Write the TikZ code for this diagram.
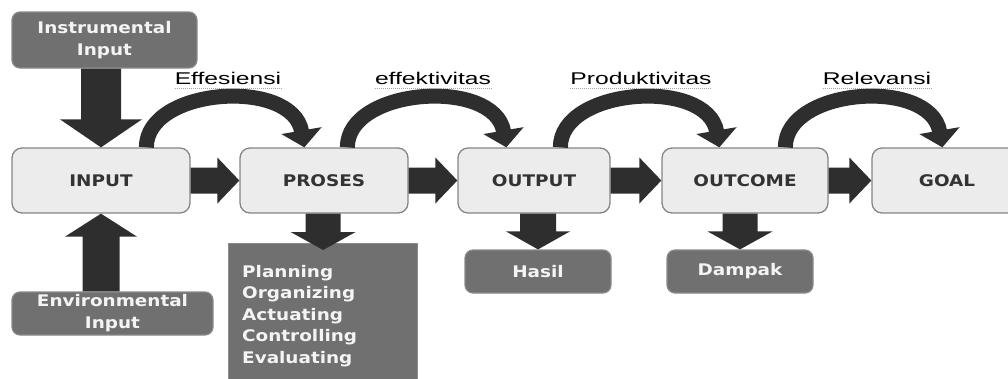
\documentclass[tikz,border=0pt]{standalone}
\usepackage{fontspec}
\usetikzlibrary{calc,arrows.meta}
\newfontfamily\boxfont[FakeStretch=1.15]{DejaVu Sans Bold}
\newfontfamily\labfont[FakeStretch=1.45]{Liberation Sans}
\definecolor{lightbox}{HTML}{ECECEC}
\definecolor{lightedge}{HTML}{858585}
\definecolor{darkbox}{HTML}{707070}
\definecolor{darkedge}{HTML}{8A8A8A}
\definecolor{arrowgray}{HTML}{2E2E2E}
\definecolor{boxtext}{HTML}{333333}
\definecolor{whitetext}{HTML}{F4F4F4}
\tikzset{
  lightnode/.style={draw=lightedge, line width=1.3pt, fill=lightbox, rounded corners=10pt,
    inner sep=0pt, font=\boxfont\fontsize{16}{18}\selectfont, text=boxtext},
  darknode/.style={draw=darkedge, line width=1.2pt, fill=darkbox, rounded corners=8pt,
    inner sep=0pt, font=\boxfont\fontsize{16}{22}\selectfont, text=whitetext, align=center},
  listbox/.style={draw=darkedge, line width=1.2pt, fill=darkbox, inner sep=0pt},
  listtxt/.style={inner sep=0pt, font=\boxfont\fontsize{16}{21.5}\selectfont, text=whitetext, align=left},
  blockarrow/.style={fill=arrowgray},
  curvearrow/.style={draw=arrowgray, line width=15pt, -{Triangle[width=40pt,length=17pt]}},
  lab/.style={inner sep=0pt, anchor=base, font=\labfont\fontsize{17}{19}\selectfont, text=black},
  spell/.style={draw=gray!70, line width=1pt, dash pattern=on 1pt off 1pt}
}
% horizontal block arrow from #1.east to #2.west
\newcommand\harr[2]{%
  \fill[blockarrow] let \p1=(#1.east), \p2=(#2.west) in
    (\x1,\y1+13pt) -- (\x2-22pt,\y1+13pt) -- (\x2-22pt,\y1+23pt) -- (\x2,\y1)
    -- (\x2-22pt,\y1-23pt) -- (\x2-22pt,\y1-13pt) -- (\x1,\y1-13pt) -- cycle;}
% downward block arrow: #1 from, #2 to, #3 shaft half, #4 head half, #5 head length, #6 overlap
\newcommand\darr[6]{%
  \fill[blockarrow] let \p1=(#1.south), \p2=(#2.north) in
    (\x2-#3pt,\y1) -- (\x2-#3pt,\y2-#6pt+#5pt) -- (\x2-#4pt,\y2-#6pt+#5pt) -- (\x2,\y2-#6pt)
    -- (\x2+#4pt,\y2-#6pt+#5pt) -- (\x2+#3pt,\y2-#6pt+#5pt) -- (\x2+#3pt,\y1) -- cycle;}
% upward block arrow: #1 from, #2 to, #3 shaft half, #4 head half, #5 head length
\newcommand\uarr[5]{%
  \fill[blockarrow] let \p1=(#1.north), \p2=(#2.south) in
    (\x2-#3pt,\y1) -- (\x2-#3pt,\y2-#5pt) -- (\x2-#4pt,\y2-#5pt) -- (\x2,\y2)
    -- (\x2+#4pt,\y2-#5pt) -- (\x2+#3pt,\y2-#5pt) -- (\x2+#3pt,\y1) -- cycle;}
\begin{document}
\begin{tikzpicture}[x=1pt,y=-1pt]
\useasboundingbox (0,0) rectangle (1008,378);

% main chain
\node[lightnode, minimum width=178pt, minimum height=65pt] (input) at (101,180.5) {INPUT};
\node[lightnode, minimum width=168pt, minimum height=65pt] (proses) at (324,180.5) {PROSES};
\node[lightnode, minimum width=152pt, minimum height=65pt] (output) at (534,180.5) {OUTPUT};
\node[lightnode, minimum width=166pt, minimum height=65pt] (outcome) at (745,180.5) {OUTCOME};
\node[lightnode, minimum width=150pt, minimum height=65pt] (goal) at (947,180.5) {GOAL};

% side boxes
\node[darknode, minimum width=185pt, minimum height=56pt] (instr) at (104.5,40) {Instrumental\\Input};
\node[darknode, minimum width=201pt, minimum height=43pt] (env) at (112.5,313.5) {Environmental\\Input};
\node[listbox, minimum width=189pt, minimum height=150pt, anchor=north west] (list) at (228,243) {};
\node[listtxt, anchor=north west] (listtext) at (242,265) {Planning\\Organizing\\Actuating\\Controlling\\Evaluating};
\node[darknode, minimum width=146pt, minimum height=43pt] (hasil) at (538,271.5) {Hasil};
\node[darknode, minimum width=146pt, minimum height=43pt] (dampak) at (740,271.5) {Dampak};

% block arrows
\harr{input}{proses}
\harr{proses}{output}
\harr{output}{outcome}
\harr{outcome}{goal}
\darr{instr}{input}{20}{41}{28}{0}
\uarr{env}{input}{18.5}{36}{23}
\darr{proses}{list}{17.5}{32.5}{18}{7}
\darr{output}{hasil}{18}{32}{18}{0}
\darr{outcome}{dampak}{17.5}{32.5}{18}{0}

% curved arrows
\draw[curvearrow] ($(input.north west)+(135,0)$) .. controls +(0,-60) and +(-12,-70) .. ($(proses.north west)+(65,0)$);
\draw[curvearrow] ($(proses.north west)+(108,0)$) .. controls +(0,-60) and +(-12,-70) .. ($(output.north west)+(49,0)$);
\draw[curvearrow] ($(output.north west)+(103,0)$) .. controls +(0,-60) and +(-12,-70) .. ($(outcome.north west)+(58,0)$);
\draw[curvearrow] ($(outcome.north west)+(124,0)$) .. controls +(0,-60) and +(-12,-70) .. ($(goal.north west)+(71,0)$);

% labels
\node[lab] (l1) at (228,84) {Effesiensi};
\node[lab] (l2) at (433,84) {effektivitas};
\node[lab] (l3) at (641,84) {Produktivitas};
\node[lab] (l4) at (877,84) {Relevansi};
\foreach \l in {l1,l2,l3,l4}{
  \draw[spell] ($(\l.south west)+(0,4)$) -- ($(\l.south east)+(0,4)$);
}
\end{tikzpicture}
\end{document}
